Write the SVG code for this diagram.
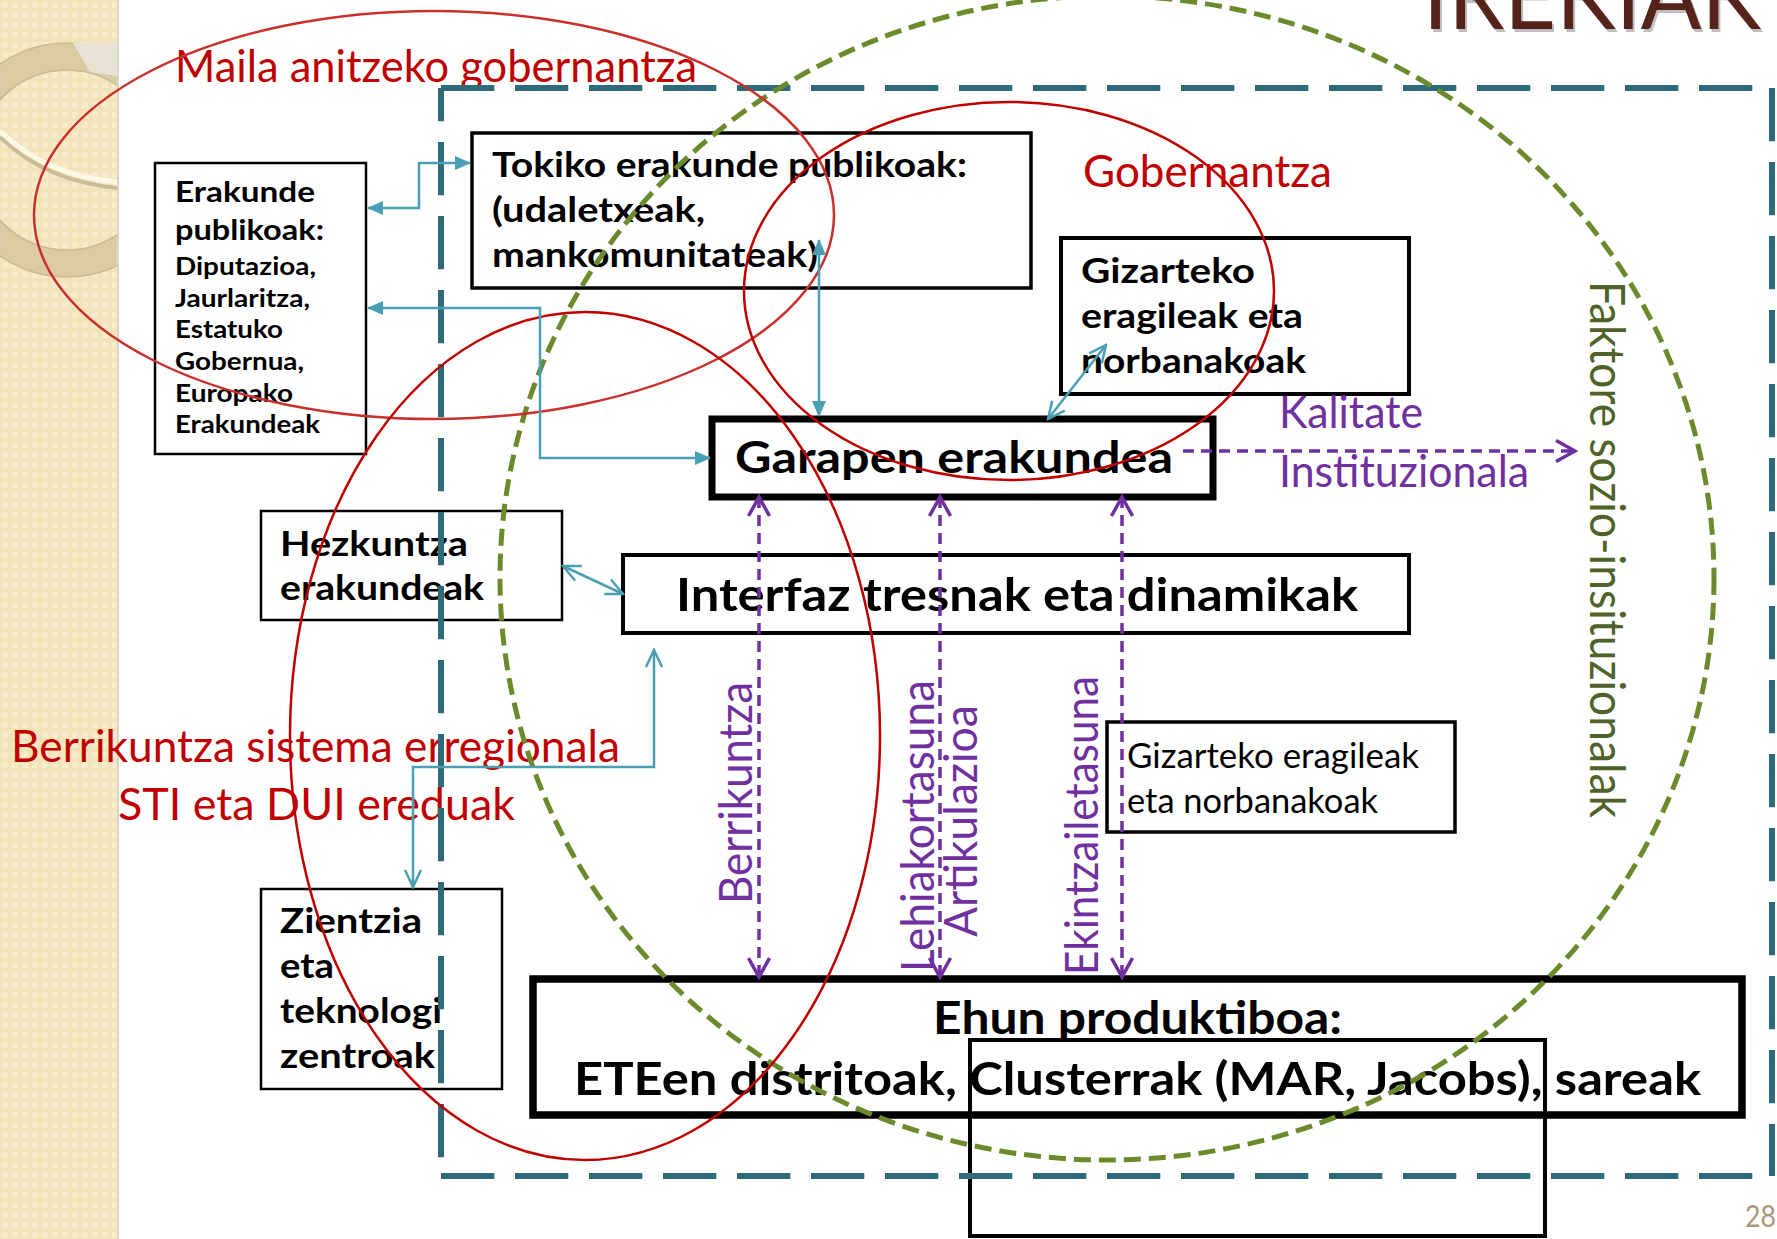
<svg xmlns="http://www.w3.org/2000/svg" width="1777" height="1239" viewBox="0 0 1777 1239">
<defs>
<style>
.bx{fill:none;stroke:#000}
.tb{font-family:Lato,"Liberation Sans","DejaVu Sans",sans-serif;font-weight:700;fill:#000}
.tr{font-family:Lato,"Liberation Sans","DejaVu Sans",sans-serif;font-weight:400}
.red{fill:#C00000}
.pur{fill:#7030A0}
.teal{fill:none;stroke:#4A9FB5;stroke-width:2.5}
.pd{fill:none;stroke:#7030A0;stroke-width:3.5;stroke-dasharray:11 7}
.ell{fill:none;stroke:#C00000;stroke-width:2.5}
.frame{fill:none;stroke:#2D6A7A;stroke-width:6;stroke-dasharray:53.3 20.7}
</style>
<pattern id="tex" width="10" height="10" patternUnits="userSpaceOnUse">
<rect width="10" height="10" fill="#F3E3B8"/>
<rect x="2" y="2" width="6" height="6" fill="#F7EBCC"/>
</pattern>
<clipPath id="stripClip"><rect x="0" y="0" width="117" height="1239"/></clipPath>
<marker id="tf" viewBox="0 0 16 14" markerUnits="userSpaceOnUse" markerWidth="16" markerHeight="14" refX="15" refY="7" orient="auto-start-reverse">
<path d="M0,0 L16,7 L0,14 Z" fill="#4A9FB5"/>
</marker>
<marker id="to" viewBox="0 0 20 20" markerUnits="userSpaceOnUse" markerWidth="20" markerHeight="20" refX="18" refY="10" orient="auto-start-reverse">
<path d="M1,2 L18,10 L1,18" fill="none" stroke="#4A9FB5" stroke-width="2.5"/>
</marker>
<marker id="po" viewBox="0 0 24 24" markerUnits="userSpaceOnUse" markerWidth="24" markerHeight="24" refX="21" refY="12" orient="auto-start-reverse">
<path d="M2,1.5 L21,12 L2,22.5" fill="none" stroke="#7030A0" stroke-width="3.5"/>
</marker>
</defs>

<rect x="0" y="0" width="1777" height="1239" fill="#FFFFFF"/>

<g id="strip">
<rect x="0" y="0" width="117" height="1239" fill="url(#tex)"/>
<g clip-path="url(#stripClip)">
<circle cx="67" cy="160" r="103.5" fill="none" stroke="#D6C79E" stroke-width="27" opacity="0.85"/>
<circle cx="67" cy="160" r="117" fill="none" stroke="#C8BA92" stroke-width="1.5"/>
<circle cx="67" cy="160" r="90" fill="none" stroke="#C8BA92" stroke-width="1.5"/>
<polygon points="73,43 117,43 117,76 90,72" fill="#E8E3D4"/>
<path d="M0,137 Q45,181 117,188" fill="none" stroke="#C9BC98" stroke-width="4"/>
<path d="M0,131 Q45,175 117,182" fill="none" stroke="#FFF8E4" stroke-width="5"/>
</g>
<rect x="117" y="0" width="2" height="1239" fill="#D9D5CC"/>
</g>

<g id="title">
<text class="tr" x="1425" y="32" font-size="96" fill="#000" opacity="0.25" textLength="338" lengthAdjust="spacingAndGlyphs">IREKIAK</text>
<text class="tr" x="1423" y="29" font-size="96" fill="#55231A" textLength="338" lengthAdjust="spacingAndGlyphs">IREKIAK</text>
</g>

<g id="node-erakunde-publikoak">
<rect class="bx" x="155" y="163" width="211" height="291" stroke-width="2.5"/>
<text class="tb" x="175" y="202" font-size="29" textLength="140" lengthAdjust="spacingAndGlyphs">Erakunde</text>
<text class="tb" x="175" y="240" font-size="29" textLength="149" lengthAdjust="spacingAndGlyphs">publikoak:</text>
<text class="tb" x="175" y="275" font-size="25" textLength="141" lengthAdjust="spacingAndGlyphs">Diputazioa,</text>
<text class="tb" x="175" y="307" font-size="25" textLength="135" lengthAdjust="spacingAndGlyphs">Jaurlaritza,</text>
<text class="tb" x="175" y="338" font-size="25" textLength="108" lengthAdjust="spacingAndGlyphs">Estatuko</text>
<text class="tb" x="175" y="370" font-size="25" textLength="129" lengthAdjust="spacingAndGlyphs">Gobernua,</text>
<text class="tb" x="175" y="402" font-size="25" textLength="118" lengthAdjust="spacingAndGlyphs">Europako</text>
<text class="tb" x="175" y="433" font-size="25" textLength="145" lengthAdjust="spacingAndGlyphs">Erakundeak</text>
</g>

<g id="node-tokiko">
<rect class="bx" x="472" y="133" width="559" height="155" stroke-width="3.5"/>
<text class="tb" x="492" y="177" font-size="34" textLength="475" lengthAdjust="spacingAndGlyphs">Tokiko erakunde publikoak:</text>
<text class="tb" x="492" y="222" font-size="34" textLength="213" lengthAdjust="spacingAndGlyphs">(udaletxeak,</text>
<text class="tb" x="492" y="267" font-size="34" textLength="326" lengthAdjust="spacingAndGlyphs">mankomunitateak)</text>
</g>

<g id="node-gizarteko-1">
<rect class="bx" x="1061" y="238" width="348" height="156" stroke-width="4"/>
<text class="tb" x="1081" y="283" font-size="35" textLength="174" lengthAdjust="spacingAndGlyphs">Gizarteko</text>
<text class="tb" x="1081" y="328" font-size="35" textLength="222" lengthAdjust="spacingAndGlyphs">eragileak eta</text>
<text class="tb" x="1081" y="373" font-size="35" textLength="225" lengthAdjust="spacingAndGlyphs">norbanakoak</text>
</g>

<g id="node-garapen">
<rect class="bx" x="712" y="419" width="501" height="78" stroke-width="7"/>
<text class="tb" x="735" y="473" font-size="44" textLength="438" lengthAdjust="spacingAndGlyphs">Garapen erakundea</text>
</g>

<g id="node-interfaz">
<rect class="bx" x="623" y="555" width="786" height="78" stroke-width="4"/>
<text class="tb" x="676" y="611" font-size="46" textLength="682" lengthAdjust="spacingAndGlyphs">Interfaz tresnak eta dinamikak</text>
</g>

<g id="node-hezkuntza">
<rect class="bx" x="261" y="511" width="301" height="109" stroke-width="2.5"/>
<text class="tb" x="280" y="556" font-size="35" textLength="188" lengthAdjust="spacingAndGlyphs">Hezkuntza</text>
<text class="tb" x="280" y="600" font-size="35" textLength="204" lengthAdjust="spacingAndGlyphs">erakundeak</text>
</g>

<g id="node-zientzia">
<rect class="bx" x="261" y="889" width="241" height="200" stroke-width="2.5"/>
<text class="tb" x="280" y="933" font-size="35" textLength="142" lengthAdjust="spacingAndGlyphs">Zientzia</text>
<text class="tb" x="280" y="978" font-size="35" textLength="54" lengthAdjust="spacingAndGlyphs">eta</text>
<text class="tb" x="280" y="1023" font-size="35" textLength="162" lengthAdjust="spacingAndGlyphs">teknologi</text>
<text class="tb" x="280" y="1068" font-size="35" textLength="155" lengthAdjust="spacingAndGlyphs">zentroak</text>
</g>

<g id="node-gizarteko-2">
<rect class="bx" x="1107" y="722" width="348" height="110" stroke-width="3.5"/>
<text class="tr" x="1127" y="768" font-size="34" fill="#000" textLength="292" lengthAdjust="spacingAndGlyphs">Gizarteko eragileak</text>
<text class="tr" x="1127" y="813" font-size="34" fill="#000" textLength="251" lengthAdjust="spacingAndGlyphs">eta norbanakoak</text>
</g>

<g id="node-ehun">
<rect class="bx" x="533" y="979" width="1209" height="136" stroke-width="7.5"/>
<text class="tb" x="933" y="1034" font-size="46" textLength="409" lengthAdjust="spacingAndGlyphs">Ehun produktiboa:</text>
<text class="tb" x="574" y="1095" font-size="46" textLength="1127" lengthAdjust="spacingAndGlyphs">ETEen distritoak, Clusterrak (MAR, Jacobs), sareak</text>
</g>

<g id="node-clusterrak-frame">
<rect class="bx" x="970" y="1040" width="575" height="196" stroke-width="4"/>
</g>

<g id="labels">
<text class="tr red" x="175" y="82" font-size="44" textLength="522" lengthAdjust="spacingAndGlyphs">Maila anitzeko gobernantza</text>
<text class="tr red" x="1083" y="187" font-size="44" textLength="249" lengthAdjust="spacingAndGlyphs">Gobernantza</text>
<text class="tr red" x="11" y="762" font-size="44" textLength="609" lengthAdjust="spacingAndGlyphs">Berrikuntza sistema erregionala</text>
<text class="tr red" x="118" y="820" font-size="44" textLength="397" lengthAdjust="spacingAndGlyphs">STI eta DUI ereduak</text>
<text class="tr pur" x="1279" y="428" font-size="44" textLength="144" lengthAdjust="spacingAndGlyphs">Kalitate</text>
<text class="tr pur" x="1279" y="487" font-size="44" textLength="250" lengthAdjust="spacingAndGlyphs">Instituzionala</text>
<text class="tr pur" transform="translate(752,904) rotate(-90)" font-size="46" textLength="222" lengthAdjust="spacingAndGlyphs">Berrikuntza</text>
<text class="tr pur" transform="translate(934,972) rotate(-90)" font-size="46" textLength="292" lengthAdjust="spacingAndGlyphs">Lehiakortasuna</text>
<text class="tr pur" transform="translate(977,937) rotate(-90)" font-size="46" textLength="232" lengthAdjust="spacingAndGlyphs">Artikulazioa</text>
<text class="tr pur" transform="translate(1098,975) rotate(-90)" font-size="46" textLength="299" lengthAdjust="spacingAndGlyphs">Ekintzailetasuna</text>
<text class="tr" transform="translate(1590,281) rotate(90)" font-size="48" fill="#4F6228" textLength="537" lengthAdjust="spacingAndGlyphs">Faktore sozio-insituzionalak</text>
<text class="tr" x="1745" y="1227" font-size="30" fill="#A8987A" textLength="31" lengthAdjust="spacingAndGlyphs">28</text>
</g>

<g id="regions">
<path class="frame" d="M441,88 H1772"/>
<path class="frame" d="M1772,88 V1176"/>
<path class="frame" d="M441,1176 H1772"/>
<path class="frame" d="M441,88 V1176" stroke-dashoffset="20"/>
<ellipse cx="1107" cy="578" rx="607" ry="582" fill="none" stroke="#6B8A2B" stroke-width="5" stroke-dasharray="17 8"/>
<ellipse cx="434" cy="215" rx="400" ry="204" fill="none" stroke="#C9302C" stroke-width="2.5"/>
<ellipse class="ell" cx="1009" cy="291" rx="265" ry="189"/>
<ellipse class="ell" cx="585" cy="736" rx="295" ry="424"/>
</g>

<g id="connectors">
<path class="teal" d="M368,208 H419 V163 H470" marker-start="url(#tf)" marker-end="url(#tf)"/>
<path class="teal" d="M368,308 H540 V458 H710" marker-start="url(#tf)" marker-end="url(#tf)"/>
<path class="teal" d="M819,240 V416" marker-start="url(#tf)" marker-end="url(#tf)"/>
<path class="teal" d="M1106,345 L1048,419" marker-start="url(#to)" marker-end="url(#to)"/>
<path class="teal" d="M563,566 L623,594" marker-start="url(#to)" marker-end="url(#to)"/>
<path class="teal" d="M654,650 V767 H413 V887" marker-start="url(#to)" marker-end="url(#to)"/>
<path class="pd" d="M759,497 V977" marker-start="url(#po)" marker-end="url(#po)"/>
<path class="pd" d="M940,497 V977" marker-start="url(#po)" marker-end="url(#po)"/>
<path class="pd" d="M1122,497 V977" marker-start="url(#po)" marker-end="url(#po)"/>
<path class="pd" d="M1183,451 H1575" marker-end="url(#po)"/>
</g>
</svg>
